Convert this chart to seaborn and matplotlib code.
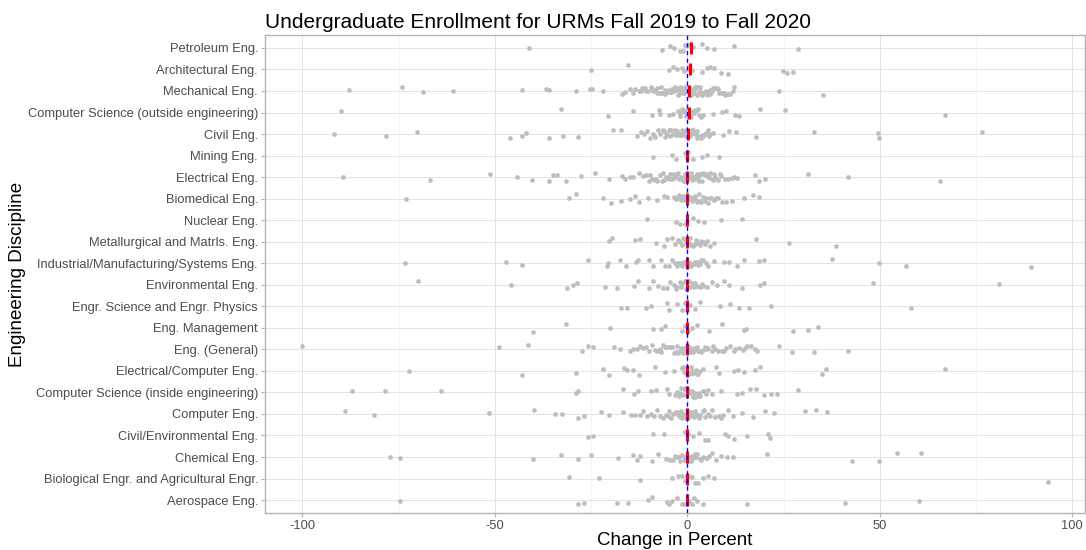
import numpy as np
import pandas as pd
import matplotlib
matplotlib.use("Agg")
import matplotlib.pyplot as plt
import seaborn as sns

categories = [
    "Petroleum Eng.", "Architectural Eng.", "Mechanical Eng.",
    "Computer Science (outside engineering)", "Civil Eng.", "Mining Eng.",
    "Electrical Eng.", "Biomedical Eng.", "Nuclear Eng.",
    "Metallurgical and Matrls. Eng.", "Industrial/Manufacturing/Systems Eng.",
    "Environmental Eng.", "Engr. Science and Engr. Physics", "Eng. Management",
    "Eng. (General)", "Electrical/Computer Eng.",
    "Computer Science (inside engineering)", "Computer Eng.",
    "Civil/Environmental Eng.", "Chemical Eng.",
    "Biological Engr. and Agricultural Engr.", "Aerospace Eng.",
]

petroleum = [-41, -6.5, -4.5, -3.5, -2, -1, -0.5, 0.3, 0.8, 1.5, 3.8, 5, 7, 12.2, 28.7]
architectural = [-25, -15.3, -4.7, -3.8, -2.7, -1.4, -0.8, 0.2, 0.6, 1.2, 3.8, 5.1, 6, 7, 8.8, 10.6, 24.8, 26, 27.5]
mechanical = [-88, -74, -68.7, -60.8, -43, -36.6, -36, -29, -25.2, -24.8, -22, -17, -16.3, -15, -13.5, -12.5,
              -11.8, -11, -10.3, -9.5, -9, -8.4, -7.8, -7.2, -6.7, -6.2, -5.7, -5.2, -4.8, -4.3, -3.9, -3.5,
              -3.1, -2.8, -2.4, -2.1, -1.8, -1.5, -1.2, -1, -0.8, -0.6, -0.4, -0.2, 0, 0.2, 0.4, 0.6, 0.8, 1,
              1.2, 1.5, 1.8, 2.1, 2.4, 2.7, 3, 3.4, 3.8, 4.2, 4.6, 5, 5.5, 6, 6.5, 7, 7.6, 8.2, 9, 9.8, 10.5,
              11.8, 12.1, 23.7, 35.2,
              -14, -12, -10.8, -9.2, -8, -6.9, -5.9, -4.5, -3.3, -2.6, -1.9, -1.4, -0.9, -0.5, -0.1, 0.1, 0.5,
              0.9, 1.4, 1.9, 2.5, 3.2, 3.9, 4.8, 5.8, 6.8, 8, 9.4, 11]
cs_outside = [-90, -32.7, -20.6, -14, -9.3, -7.4, -7, -4.7, -3.7, -2.5, -2, -1.5, -1, -0.6, -0.3, 0, 0.3, 0.6,
              1, 1.5, 2, 2.5, 3, 3.5, 6.8, 9, 10, 12.5, 13.5, 19, 25.5, 67,
              -1.8, -0.8, 0.1, 0.8, 1.8, 2.8, 4.2]
civil = [-91.7, -78.3, -70.2, -46, -43, -42, -36, -32.2, -28.5, -19.2, -17.3, -13, -12, -11.2, -10.5, -9.8, -9,
         -8.3, -7.6, -7, -6.4, -5.8, -5.2, -4.7, -4.2, -3.7, -3.2, -2.8, -2.4, -2, -1.6, -1.3, -1, -0.7, -0.4,
         -0.2, 0, 0.2, 0.4, 0.7, 1, 1.3, 1.6, 2, 2.4, 2.8, 3.2, 3.7, 4.2, 4.8, 5.4, 6, 6.7, 9.2, 10.8, 12.6,
         17.9, 33, 49.5, 49.8, 76.6,
         -6.1, -4.4, -3, -2.2, -1.5, -0.9, -0.3, 0.1, 0.6, 1.2, 1.8, 2.6, 3.5, 4.5, 5.7]
mining = [-8.8, -4, -3, -0.7, 0, 0.3, 1.4, 3.8, 5.1, 8.1]
electrical = [-89.4, -66.8, -51.2, -44.2, -40.4, -36, -35, -33.9, -31.6, -27.5, -24, -20.3, -17, -16.3, -15, -14,
              -11.5, -10.8, -10, -9.2, -8.5, -7.8, -7.2, -6.6, -6, -5.5, -5, -4.5, -4, -3.6, -3.2, -2.8, -2.4,
              -2, -1.7, -1.4, -1.1, -0.8, -0.5, -0.2, 0, 0.2, 0.5, 0.8, 1.1, 1.4, 1.7, 2, 2.4, 2.8, 3.2, 3.6,
              4, 4.5, 5, 5.5, 6, 6.6, 7.2, 8, 8.8, 9.9, 11.5, 12.9, 17.6, 18.7, 20.3, 31.4, 41.7, 65.7,
              -12.5, -9.6, -8.1, -6.3, -4.8, -3.4, -2.2, -1.2, -0.6, -0.1, 0.3, 0.9, 1.5, 2.2, 3, 3.8, 4.8,
              5.8, 7, 8.4, 10.5, 12]
biomedical = [-73.2, -30.8, -28.9, -22, -19.8, -17.2, -14.9, -13.6, -12.5, -10.2, -7.9, -6.1, -5.2, -3.5, -2.8,
              -2.2, -1.7, -1.2, -0.8, -0.4, 0, 0.3, 0.7, 1.1, 1.5, 2, 2.5, 3, 3.6, 4.2, 4.8, 5.5, 6.2, 7, 8, 9,
              11.5, 14.6, 17, 18.7,
              -3, -1.9, -1, -0.2, 0.5, 1.3, 2.2, 3.3, 4.5, 5.8, 7.5, 10]
nuclear = [-10.6, -3, -2, -0.7, 0, 1.4, 2.7, 4.3, 8.8, 14.2]
metallurgical = [-20.3, -19.6, -13.6, -12.2, -8.1, -6.1, -5.4, -4, -3.2, -2.5, -1.8, -1.2, -0.6, 0, 0.5, 1, 1.6,
                 2.2, 2.8, 3.5, 4.2, 5, 6, 7, 17.9, 26.4, 38.6,
                 -1.5, -0.3, 0.8, 2, 3.2, 4.6]
industrial = [-73.4, -47, -43, -25.7, -20.9, -20.5, -17.6, -16, -13.4, -12.8, -9.9, -8.8, -6.8, -5.8, -4.8, -4,
              -3.3, -2.6, -2, -1.4, -0.9, -0.4, 0, 0.4, 0.9, 1.4, 2, 2.6, 3.2, 4, 4.8, 7, 9.5, 10.8, 13, 14.6,
              18.7, 20, 37.7, 49.9, 56.9, 89.4,
              -2.3, -1.1, -0.2, 0.6, 1.7, 2.9, 3.6, 5.5]
environmental = [-69.9, -45.8, -31.2, -29.8, -28.7, -21.3, -18.3, -13.8, -12.9, -9.9, -8.8, -7.5, -5.4, -4.4,
                 -3.5, -2.7, -2, -1.3, -0.7, 0, 0.5, 1.1, 1.8, 2.5, 3.3, 4.2, 5.2, 6.5, 7.6, 9.5, 10.8, 14.2, 19,
                 20, 48.2, 81,
                 -6.2, -3, -1.6, -0.3, 0.8, 2.1, 3.8]
engr_science = [-17.2, -15.6, -10.8, -9.5, -5.4, -4.8, -2.7, -1.4, -0.7, 0, 0.6, 2, 3.4, 8.4, 11.2, 13.5, 16,
                21.7, 58]
eng_management = [-40.2, -31.6, -20, -8.8, -6.8, -5.7, -1.4, -0.7, 0.3, 1.1, 2.4, 5.7, 9, 14.6, 15.2, 27.5, 31.4,
                  33.9]
eng_general = [-100, -49, -41.3, -27.4, -25.7, -24.4, -19, -17.6, -15, -14, -13.2, -12.4, -11.6, -10.8, -10, -9.2,
               -8.5, -7.8, -7.1, -6.4, -5.8, -5.2, -4.6, -4, -3.5, -3, -2.5, -2, -1.6, -1.2, -0.8, -0.4, 0, 0.4,
               0.8, 1.2, 1.7, 2.2, 2.7, 3.3, 4, 4.7, 5.5, 6.3, 7.2, 8, 9, 10, 11, 12, 13.5, 14.5, 15.5, 16.5,
               17.5, 18, 23.7, 27.1, 33, 41.7,
               -6.8, -4.3, -2.8, -1.4, -0.2, 0.6, 1.5, 2.5, 3.6, 5, 6.8, 9.5, 12.5, 15]
elec_computer = [-72.4, -43, -29, -22, -20.3, -16.5, -15.7, -14.2, -12.5, -8.4, -5.7, -3.4, -1.5, -0.8, 0, 0.5,
                 1, 1.6, 2.2, 2.8, 3.4, 7.5, 8.2, 12.2, 13.1, 14.6, 17.6, 19, 35, 35.9, 67,
                 -1.1, -0.3, 0.8, 1.3, 2.5, 4.2]
cs_inside = [-87, -78.5, -64.1, -28.9, -28.5, -16.8, -13.8, -12.8, -9.5, -8.2, -5.4, -4.8, -2.7, -2.1, -1.6, -1.1,
             -0.6, -0.2, 0, 0.3, 0.7, 1.1, 1.6, 2.1, 2.7, 3.3, 4, 4.8, 5.5, 8.8, 12.9, 14.2, 16.3, 17.9, 20, 21.7,
             23.3, 28.7,
             -3.2, -1.8, -0.9, 0.1, 0.9, 1.9, 3, 4.4, 6.5]
computer_eng = [-88.9, -81.3, -51.5, -39.7, -34.3, -32.5, -28.5, -26.8, -22.4, -20.3, -16.8, -14.7, -13.5, -12.4,
                -11.4, -10.4, -9.5, -8.6, -7.8, -7, -6.2, -5.5, -4.8, -4.2, -3.6, -3, -2.5, -2, -1.6, -1.2, -0.8,
                -0.4, 0, 0.4, 0.8, 1.2, 1.7, 2.2, 2.7, 3.3, 4, 4.7, 5.5, 6.3, 7.2, 8.2, 9.3, 10.5, 11.8, 14.2, 17,
                20.3, 22.4, 30.5, 33.5, 36.2,
                -5, -3.3, -2.2, -1.4, -0.6, 0.2, 1, 2, 3, 4.3, 6, 8.8]
civil_env = [-25.7, -24.4, -8.8, -6.1, -0.7, 0.2, 1.4, 3, 4.7, 5.4, 9.9, 10.6, 12.2, 15.6, 21, 21.4]
chemical = [-77.2, -74.7, -40.2, -32.8, -28.3, -25, -17.9, -14.1, -13, -12.3, -9.2, -7.5, -5.5, -4.5, -3.6, -2.8,
            -2.1, -1.5, -0.9, -0.4, 0, 0.4, 0.9, 1.4, 2, 2.6, 3.3, 4, 4.8, 5.6, 6.5, 7.5, 8.8, 10.2, 11.9, 20.6,
            42.7, 49.7, 54.5, 60.7,
            -3.1, -1.8, -0.6, 0.2, 1.1, 2.3, 3.6, 5.2]
biological = [-30.8, -22.9, -12.3, -4, -2.5, -1.5, -0.6, 0, 0.5, 1.2, 2, 2.8, 4, 5.3, 7, 93.8]
aerospace = [-74.7, -28.5, -26.8, -18.3, -15.3, -10.2, -9.3, -5.4, -4.7, -4, -2.7, -1.5, -0.8, 0, 0.5, 1.2, 1.8,
             2.5, 4, 15.4, 40.9, 60.2]

series = [petroleum, architectural, mechanical, cs_outside, civil, mining, electrical, biomedical, nuclear,
          metallurgical, industrial, environmental, engr_science, eng_management, eng_general, elec_computer,
          cs_inside, computer_eng, civil_env, chemical, biological, aerospace]

medians = [1.0, 0.8, 0.5, 0.4, 0.3, 0.0, 0.0, 0.0, 0.0, 0.0, 0.0, 0.0, 0.0, 0.0, 0.0, 0.0, 0.0, 0.0, 0.0,
           0.0, 0.0, 0.0]

xticks = [-100, -50, 0, 50, 100]
xminor = [-75, -25, 25, 75]

rows = []
for cat, vals in zip(categories, series):
    for v in vals:
        rows.append((cat, v))
df = pd.DataFrame(rows, columns=["discipline", "change"])

sns.set_theme(style="white")
plt.rcParams["font.family"] = ["Liberation Sans", "DejaVu Sans"]

fig = plt.figure(figsize=(10.86, 5.5), dpi=100)
ax = fig.add_axes([265 / 1086, 1 - 513 / 550, (1085 - 265) / 1086, (513 - 35) / 550])

# grid (ggplot theme_light look)
for t in xminor:
    ax.axvline(t, color="#EEEEEE", lw=0.5, zorder=0)
for t in xticks:
    ax.axvline(t, color="#E3E3E3", lw=0.7, zorder=0)
for i in range(len(categories)):
    ax.axhline(i, color="#E3E3E3", lw=0.7, zorder=0)

np.random.seed(3)
sns.stripplot(data=df, x="change", y="discipline", order=categories, color="#BEBEBE",
              jitter=0.2, size=3.4, linewidth=0, ax=ax, zorder=2)

ax.scatter(medians, np.arange(len(categories)), marker="|", s=64, linewidths=2.2,
           color="red", zorder=3)
ax.axvline(0, color="blue", lw=1.0, ls=(0, (3, 2.5)), zorder=4)

ax.set_xlim(-109.7, 103.3)
ax.set_ylim(len(categories) - 0.4, -0.6)
ax.set_xticks(xticks)
ax.set_xticklabels([str(t) for t in xticks])

for s in ax.spines.values():
    s.set_color("#B3B3B3")
    s.set_linewidth(1.0)

ax.tick_params(axis="both", which="both", length=3, width=0.8, color="#B3B3B3",
               labelcolor="#4D4D4D", labelsize=9.3, pad=2)
ax.tick_params(axis="x", bottom=True)
ax.tick_params(axis="y", left=True)

ax.set_xlabel("Change in Percent", fontsize=13.5, color="black", labelpad=0)
ax.set_ylabel("Engineering Discipline", fontsize=13.5, color="black")
ax.yaxis.set_label_coords(-0.2915, 0.5)
ax.set_title("Undergraduate Enrollment for URMs Fall 2019 to Fall 2020", loc="left",
             fontsize=15, color="black", pad=5)

fig.savefig("out.png", dpi=100)
